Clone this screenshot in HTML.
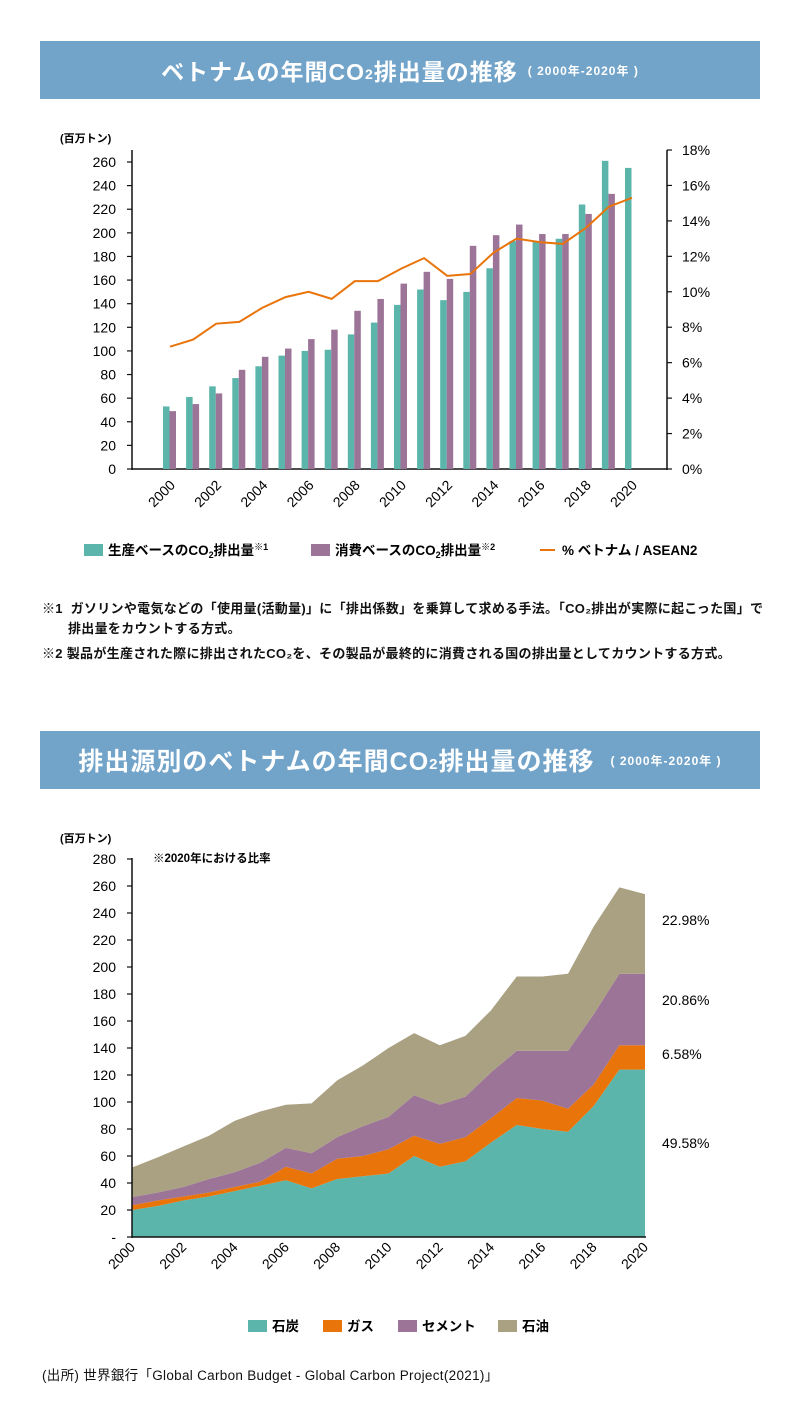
<!DOCTYPE html>
<html><head><meta charset="utf-8">
<style>
body{margin:0;width:800px;height:1420px;background:#fff;font-family:"Liberation Sans","Noto Sans CJK JP",sans-serif;color:#111;position:relative;overflow:hidden}
.hdr{position:absolute;left:40px;width:720px;background:#72a3c9;color:#fff;font-weight:bold;display:flex;align-items:center;justify-content:center;letter-spacing:1px}
.note{position:absolute;font-size:13px;font-weight:bold;line-height:20px;letter-spacing:0.3px}
svg{position:absolute;left:0;top:0}
</style></head><body>
<div class="hdr" style="top:41px;height:58px;font-size:23px">ベトナムの年間CO<span style="font-size:14px;position:relative;top:4px">2</span>排出量の推移<span style="font-size:12px;margin-left:10px">( 2000年-2020年 )</span></div>
<div class="hdr" style="top:731px;height:58px;font-size:25px">排出源別のベトナムの年間CO<span style="font-size:15px;position:relative;top:4px">2</span>排出量の推移<span style="font-size:12px;margin-left:16px">( 2000年-2020年 )</span></div>
<div class="note" style="left:42px;top:599px;width:740px">※1 &nbsp;ガソリンや電気などの「使用量(活動量)」に「排出係数」を乗算して求める手法。「CO₂排出が実際に起こった国」で<br><span style="margin-left:26px">排出量をカウントする方式。</span></div>
<div class="note" style="left:42px;top:644px">※2 製品が生産された際に排出されたCO₂を、その製品が最終的に消費される国の排出量としてカウントする方式。</div>
<div class="note" style="left:42px;top:1366px;font-weight:normal;font-size:13.5px">(出所) 世界銀行「Global Carbon Budget - Global Carbon Project(2021)」</div>
<svg id="c" width="800" height="1420"></svg>
<script>
const years=[2000,2001,2002,2003,2004,2005,2006,2007,2008,2009,2010,2011,2012,2013,2014,2015,2016,2017,2018,2019,2020];
const prodVals=[53,61,70,77,87,96,100,101,114,124,139,152,143,150,170,193,193,195,224,261,255];
const consVals=[49,55,64,84,95,102,110,118,134,144,157,167,161,189,198,207,199,199,216,233,null];
const pctVals=[6.9,7.3,8.2,8.3,9.1,9.7,10.0,9.6,10.6,10.6,11.3,11.9,10.9,11.0,12.2,13.0,12.8,12.7,13.6,14.8,15.3];
const leftTicks=[0,20,40,60,80,100,120,140,160,180,200,220,240,260];
const rightTicks=[0,2,4,6,8,10,12,14,16,18];
const coalVals=[20,23,27,30,34,38,42,36,43,45,47,60,52,56,70,83,80,78,97,124,124];
const gasVals=[3.5,4,3,3,3,3,10,11,15,15,18,15,17,18,18,20,21,17,16,18,18];
const cementVals=[6,6,7,10,11,14,14,15,16,22,24,30,29,30,34,35,37,43,52,53,53];
const oilVals=[22,26,30,32,38,38,32,37,42,45,51,46,44,45,46,55,55,57,65,64,59];
const bottomTicks=[0,20,40,60,80,100,120,140,160,180,200,220,240,260,280];
const shareLabels=["49.58%","6.58%","20.86%","22.98%"];

const S=document.getElementById('c');const NS='http://www.w3.org/2000/svg';
function mk(t,a,p){const e=document.createElementNS(NS,t);for(const k in a)e.setAttribute(k,a[k]);(p||S).appendChild(e);return e;}
const F='"Liberation Sans","Noto Sans CJK JP",sans-serif';
const y1=v=>469-v*(307/260), yR=p=>469-p*(319/18), x1=i=>170+i*23.1;
mk('line',{x1:132,y1:150,x2:132,y2:470,stroke:'#111','stroke-width':1.5});
mk('line',{x1:667,y1:150,x2:667,y2:470,stroke:'#111','stroke-width':1.5});
mk('line',{x1:132,y1:469,x2:667,y2:469,stroke:'#111','stroke-width':1.5});
leftTicks.forEach(v=>{mk('line',{x1:127,y1:y1(v),x2:132,y2:y1(v),stroke:'#111','stroke-width':1.2});
 const t=mk('text',{x:116,y:y1(v)+5,'text-anchor':'end','font-size':14,'font-family':F});t.textContent=v;
 });
rightTicks.forEach(v=>{mk('line',{x1:667,y1:yR(v),x2:672,y2:yR(v),stroke:'#111','stroke-width':1.2});
 const t=mk('text',{x:682,y:yR(v)+5,'font-size':14,'font-family':F});t.textContent=v+'%';
 });
let t0=mk('text',{x:60,y:142,'font-size':11,'font-weight':'bold','font-family':F});t0.textContent='(百万トン)';

years.forEach((yr,i)=>{
 const b=mk('rect',{x:x1(i)-7,y:y1(prodVals[i]),width:6.5,height:469-y1(prodVals[i]),fill:'#5bb5aa'});
 
 if(consVals[i]!=null){const c=mk('rect',{x:x1(i)-0.5,y:y1(consVals[i]),width:6.5,height:469-y1(consVals[i]),fill:'#9c7498'});
 }
 if(i%2==0){const t=mk('text',{x:0,y:0,'font-size':14,'font-family':F,'text-anchor':'end',transform:`translate(${x1(i)+6},${486}) rotate(-45)`});t.textContent=yr;
 }
});
const pl=mk('polyline',{points:pctVals.map((p,i)=>x1(i)+','+yR(p)).join(' '),fill:'none',stroke:'#e8740a','stroke-width':2});

function leg(x,y,col,txt,name,line){ if(line){mk('line',{x1:x,y1:y,x2:x+15,y2:y,stroke:col,'stroke-width':2});}
 else mk('rect',{x:x,y:y-6,width:19,height:12,fill:col});
 const t=mk('text',{x:x+(line?22:24),y:y+5,'font-size':13.5,'font-weight':'bold','font-family':F});t.innerHTML=txt;
 }
leg(84,550,'#5bb5aa','生産ベースのCO<tspan font-size="9" dy="3">2</tspan><tspan dy="-3">排出量</tspan><tspan font-size="9" dy="-5">※1</tspan>','legend-production');
leg(311,550,'#9c7498','消費ベースのCO<tspan font-size="9" dy="3">2</tspan><tspan dy="-3">排出量</tspan><tspan font-size="9" dy="-5">※2</tspan>','legend-consumption');
leg(540,550,'#e8740a','% ベトナム / ASEAN2','legend-share',true);
const y2=v=>1237-v*(378/280), x2=i=>132+i*25.65;
const layers=[[coalVals,'#5bb5aa','coal'],[gasVals,'#e8740a','gas'],[cementVals,'#9c7498','cement'],[oilVals,'#aaa183','oil']];
let base=years.map(()=>0);
layers.forEach(([vals,col,nm])=>{const top=base.map((b,i)=>b+vals[i]);
 const pts=top.map((v,i)=>x2(i)+','+y2(v)).concat(base.map((v,i)=>x2(i)+','+y2(v)).reverse());
 const p=mk('polygon',{points:pts.join(' '),fill:col});
 base=top;});
mk('line',{x1:132,y1:858,x2:132,y2:1238,stroke:'#111','stroke-width':1.5});
mk('line',{x1:132,y1:1237,x2:646,y2:1237,stroke:'#111','stroke-width':1.5});
bottomTicks.forEach(v=>{mk('line',{x1:127,y1:y2(v),x2:132,y2:y2(v),stroke:'#111','stroke-width':1.2});
 const t=mk('text',{x:116,y:y2(v)+5,'text-anchor':'end','font-size':14,'font-family':F});t.textContent=v==0?'-':v;
 });
let t1=mk('text',{x:60,y:842,'font-size':11,'font-weight':'bold','font-family':F});t1.textContent='(百万トン)';

let t2=mk('text',{x:153,y:862,'font-size':11.5,'font-weight':'bold','font-family':F});t2.textContent='※2020年における比率';

years.forEach((yr,i)=>{if(i%2==0){const t=mk('text',{x:0,y:0,'font-size':14,'font-family':F,'text-anchor':'end',transform:`translate(${x2(i)+4},${1248}) rotate(-45)`});t.textContent=yr;
 }});
const shareY=[1143,1054,1000,920];
shareLabels.forEach((s,k)=>{const t=mk('text',{x:662,y:shareY[k]+5,'font-size':14,'font-family':F});t.textContent=s;
 });
leg(248,1326,'#5bb5aa','石炭','legend-coal');
leg(323,1326,'#e8740a','ガス','legend-gas');
leg(398,1326,'#9c7498','セメント','legend-cement');
leg(498,1326,'#aaa183','石油','legend-oil');
</script>
</body></html>
